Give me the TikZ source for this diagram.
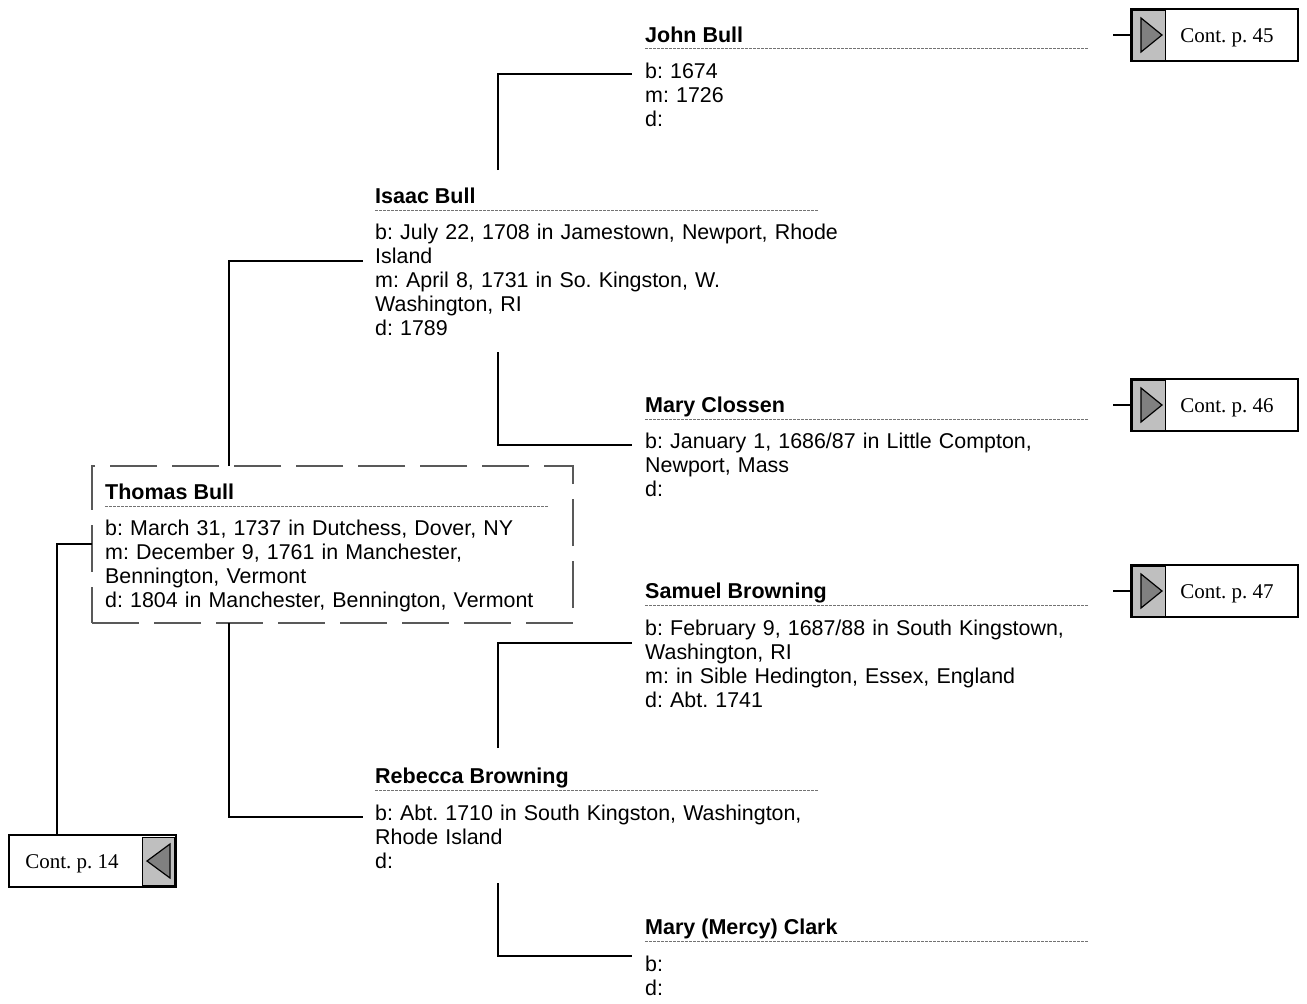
\documentclass[tikz,border=0pt]{standalone}
\usepackage{fontspec}
\setmainfont{Liberation Serif}
\setsansfont{Liberation Sans}
\frenchspacing
\begin{document}
\begin{tikzpicture}[x=1pt,y=-1pt,
 conn/.style={draw=black, line width=1.5pt},
 nm/.style={font=\sffamily\bfseries\fontsize{21.5}{24}\selectfont, inner sep=0pt, anchor=base west},
 det/.style={font=\sffamily\fontsize{21.4}{24}\selectfont, inner sep=0pt, anchor=base west, text width=480pt, align=left},
 sepline/.style={draw=black!55, line width=1pt, dash pattern=on 2.5pt off 1.5pt},
 tbox/.style={draw=black!65, line width=1.3pt, dash pattern=on 47pt off 15pt, minimum width=481pt, minimum height=157pt, inner sep=0pt},
 contbox/.style={draw=black, line width=2pt, fill=white, minimum width=167pt, minimum height=52pt, inner sep=0pt},
 conttext/.style={font=\rmfamily\fontsize{21}{24}\selectfont, inner sep=0pt, anchor=base},
 grayfill/.style={fill=black!25, draw=black, line width=1pt},
 tri/.style={fill=black!50, draw=black, line width=1.2pt}
]
\useasboundingbox (0,0) rectangle (1307,1004);

% Thomas box
\node[tbox] (thomasbox) at (332.5,544.5) {};
\node[nm] (thomas) at (105,499) {Thomas Bull};
\draw[sepline] (105,506) -- (548,506);
\node[det] (thomasd) at (105,535) {b: March 31, 1737 in Dutchess, Dover, NY\\m: December 9, 1761 in Manchester,\\Bennington, Vermont\\d: 1804 in Manchester, Bennington, Vermont};

% Isaac
\node[nm] (isaac) at (375,203) {Isaac Bull};
\draw[sepline] (375,210) -- (818,210);
\node[det] (isaacd) at (375,239) {b: July 22, 1708 in Jamestown, Newport, Rhode\\Island\\m: April 8, 1731 in So. Kingston, W.\\Washington, RI\\d: 1789};

% John
\node[nm] (john) at (645,42) {John Bull};
\draw[sepline] (645,48) -- (1088,48);
\node[det] (johnd) at (645,78) {b: 1674\\m: 1726\\d:};

% Mary Clossen
\node[nm] (clossen) at (645,412) {Mary Clossen};
\draw[sepline] (645,419) -- (1088,419);
\node[det] (clossend) at (645,448) {b: January 1, 1686/87 in Little Compton,\\Newport, Mass\\d:};

% Samuel
\node[nm] (samuel) at (645,598) {Samuel Browning};
\draw[sepline] (645,605) -- (1088,605);
\node[det] (samueld) at (645,635) {b: February 9, 1687/88 in South Kingstown,\\Washington, RI\\m: in Sible Hedington, Essex, England\\d: Abt. 1741};

% Rebecca
\node[nm] (rebecca) at (375,783) {Rebecca Browning};
\draw[sepline] (375,790) -- (818,790);
\node[det] (rebeccad) at (375,820) {b: Abt. 1710 in South Kingston, Washington,\\Rhode Island\\d:};

% Mary Clark
\node[nm] (clark) at (645,934) {Mary (Mercy) Clark};
\draw[sepline] (645,941) -- (1088,941);
\node[det] (clarkd) at (645,971) {b:\\d:};

% connector end points
\coordinate (tTop) at (229,466);
\coordinate (tBot) at (229,623);
\coordinate (isaacIn) at (363,261);
\coordinate (rebeccaIn) at (363,817);
\coordinate (isaacTop) at (498,170);
\coordinate (isaacBot) at (498,352);
\coordinate (johnIn) at (632,74);
\coordinate (clossenIn) at (632,445);
\coordinate (rebeccaTop) at (498,748);
\coordinate (rebeccaBot) at (498,883);
\coordinate (samuelIn) at (632,643);
\coordinate (clarkIn) at (632,956);
\coordinate (thomasIn) at (92,544);
\coordinate (j45) at (1113,35);
\coordinate (j46) at (1113,405);
\coordinate (j47) at (1113,591);

\draw[conn] (tTop) |- (isaacIn);
\draw[conn] (tBot) |- (rebeccaIn);
\draw[conn] (isaacTop) |- (johnIn);
\draw[conn] (isaacBot) |- (clossenIn);
\draw[conn] (rebeccaTop) |- (samuelIn);
\draw[conn] (rebeccaBot) |- (clarkIn);

% continuation boxes right
\foreach \n/\y in {45/35,46/405,47/591}{
  \node[contbox] (c\n) at (1214.5,\y) {};
  \draw[grayfill] (1132,\y-25) rectangle (1165,\y+25);
  \draw[tri] (1141,\y-17) -- (1141,\y+17) -- (1162,\y) -- cycle;
  \node[conttext] (ct\n) at (1227,\y+7) {Cont. p. \n};
  \draw[conn] (j\n) -- (c\n.west);
}

% continuation box left
\node[contbox] (c14) at (92.5,861) {};
\draw[grayfill] (142,837) rectangle (174,885);
\draw[tri] (170,844) -- (170,878) -- (147,861) -- cycle;
\node[conttext] (ct14) at (72,868) {Cont. p. 14};
\draw[conn] (c14.north -| 57,0) |- (thomasIn);
\end{tikzpicture}
\end{document}
